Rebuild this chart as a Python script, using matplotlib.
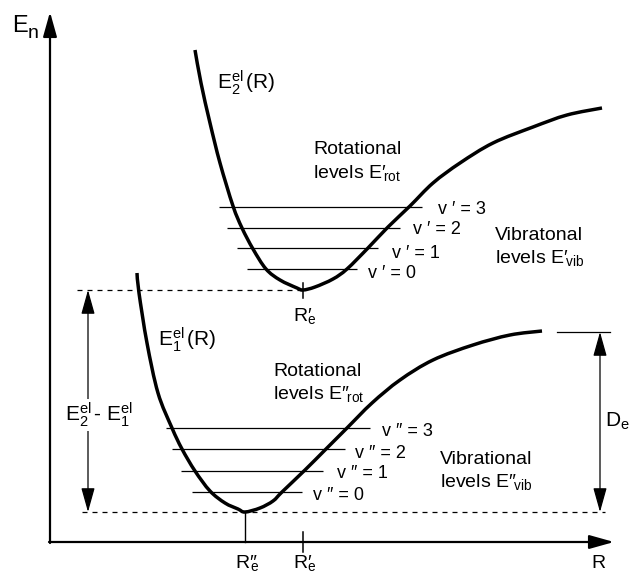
import numpy as np
import matplotlib.pyplot as plt
from matplotlib.path import Path
from matplotlib.patches import PathPatch

plt.rcParams['font.family'] = ['Liberation Sans', 'DejaVu Sans']
plt.rcParams['mathtext.fontset'] = 'custom'
plt.rcParams['mathtext.rm'] = 'Liberation Sans'
plt.rcParams['mathtext.it'] = 'Liberation Sans:italic'
plt.rcParams['mathtext.bf'] = 'Liberation Sans:bold'
plt.rcParams['mathtext.fallback'] = 'stixsans'

P1 = '\u2032'   # prime
P2 = '\u2033'   # double prime

# potential curves E(R)
upper_R = [145, 151, 160, 170, 183, 192, 203, 216, 230, 247, 253, 265, 283, 297,
           318, 338, 360, 383, 410, 443, 483, 517, 552]
upper_E = [492, 459, 419, 379, 336, 314, 293, 273, 262, 254, 252, 255, 263, 273,
           294, 315, 336, 359, 379, 399, 415, 427, 434]
lower_R = [87, 89, 97, 108, 122, 132, 145, 160, 175, 188, 195, 210, 223, 232,
           255, 276, 297, 322, 350, 383, 423, 460, 492]
lower_E = [269, 249, 199, 149, 114, 93, 71, 51, 39, 33, 30, 34, 41, 50,
           72, 93, 114, 139, 162, 182, 197, 207, 211]

# minima and dissociation limit
Re_upper, E_min_upper = 253, 252
Re_lower, E_min_lower = 195, 30
E_dissoc_lower = 210

# vibrational levels v = 0..3 with their extents
upper_levels = [273, 294, 314, 335]
upper_left = [197, 187, 177, 169]
upper_right = [307, 328, 350, 372]
lower_levels = [50, 71, 93, 114]
lower_left = [142, 131, 122, 116]
lower_right = [252, 273, 295, 320]

upper_level_labels = ['v ' + P1 + ' = %d' % v for v in range(4)]
lower_level_labels = ['v ' + P2 + ' = %d' % v for v in range(4)]
upper_label_R = [318, 342, 363, 388]
upper_label_E = [269, 289, 312, 333]
lower_label_R = [263, 287, 305, 332]
lower_label_E = [46, 68, 89, 110]


def smooth_path(xs, ys):
    # cubic Bezier segments through the points (Catmull-Rom tangents)
    pts = np.column_stack([xs, ys]).astype(float)
    verts = [pts[0]]
    codes = [Path.MOVETO]
    n = len(pts)
    for i in range(n - 1):
        p0 = pts[max(i - 1, 0)]
        p1 = pts[i]
        p2 = pts[i + 1]
        p3 = pts[min(i + 2, n - 1)]
        verts += [p1 + (p2 - p0) / 6, p2 - (p3 - p1) / 6, p2]
        codes += [Path.CURVE4] * 3
    return Path(verts, codes)


fig = plt.figure(figsize=(6.3, 5.79), dpi=100)
ax = fig.add_axes([0, 0, 1, 1])
ax.set_xlim(-50, 580)
ax.set_ylim(-37, 542)
ax.axis('off')

# coordinate axes with arrow heads
head = '-|>,head_length=1.0,head_width=0.28'
ax.annotate('', xy=(0, 530), xytext=(0, -1),
            arrowprops=dict(arrowstyle=head, lw=1.6, color='k', mutation_scale=15,
                            shrinkA=0, shrinkB=0))
ax.annotate('', xy=(564, 0), xytext=(-1, 0),
            arrowprops=dict(arrowstyle=head, lw=1.6, color='k', mutation_scale=15,
                            shrinkA=0, shrinkB=0))

# potential curves
for xs, ys in [(upper_R, upper_E), (lower_R, lower_E)]:
    ax.add_patch(PathPatch(smooth_path(xs, ys), fill=False, ec='k', lw=2.5,
                           capstyle='butt', joinstyle='round'))

# vibrational levels
ax.hlines(upper_levels, upper_left, upper_right, color='k', lw=0.9)
ax.hlines(lower_levels, lower_left, lower_right, color='k', lw=0.9)
for lab, r, e in zip(upper_level_labels, upper_label_R, upper_label_E):
    ax.text(r, e, lab, fontsize=13, ha='left', va='center')
for lab, r, e in zip(lower_level_labels, lower_label_R, lower_label_E):
    ax.text(r, e, lab, fontsize=13, ha='left', va='center')

# dashed reference lines at the two minima
ax.plot([27, Re_upper - 3], [E_min_upper, E_min_upper], color='k', lw=0.9, ls=(0, (4, 4)))
ax.plot([32, 555], [E_min_lower, E_min_lower], color='k', lw=0.9, ls=(0, (4, 4)))

# equilibrium distance markers
ax.plot([Re_upper, Re_upper], [E_min_upper - 8, E_min_upper + 7], color='k', lw=1.1)
ax.plot([Re_lower, Re_lower], [0, E_min_lower], color='k', lw=1.0)
ax.plot([Re_upper, Re_upper], [-10, 10], color='k', lw=1.1)

# double arrows: electronic gap and dissociation energy
dbl = '<|-|>,head_length=1.0,head_width=0.28'
ax.annotate('', xy=(38, E_min_upper), xytext=(38, E_min_lower),
            arrowprops=dict(arrowstyle=dbl, lw=0.9, color='k', mutation_scale=15,
                            shrinkA=0, shrinkB=0))
ax.annotate('', xy=(550, E_dissoc_lower), xytext=(550, E_min_lower),
            arrowprops=dict(arrowstyle=dbl, lw=0.9, color='k', mutation_scale=15,
                            shrinkA=0, shrinkB=0))
ax.plot([507, 560], [E_dissoc_lower, E_dissoc_lower], color='k', lw=0.9)

# labels
ax.text(-38, 516, 'E', fontsize=17, ha='left', va='center')
ax.text(-22, 509, 'n', fontsize=14, ha='left', va='center')
ax.text(548, -22, 'R', fontsize=14, ha='center', va='center')
ax.text(167, 459, r'$\mathrm{E}_2^{\mathrm{el}}\,(\mathrm{R})$', fontsize=15, ha='left', va='center')
ax.text(108, 202, r'$\mathrm{E}_1^{\mathrm{el}}\,(\mathrm{R})$', fontsize=15, ha='left', va='center')
ax.text(15, 127, r'$\mathrm{E}_2^{\mathrm{el}}\,$- $\mathrm{E}_1^{\mathrm{el}}$', fontsize=15,
        ha='left', va='center',
        bbox=dict(facecolor='white', edgecolor='none', pad=1))
ax.text(555, 121, r'$\mathrm{D}_\mathrm{e}$', fontsize=15, ha='left', va='center')

Re1_label = r'$\mathrm{R' + P1 + r'}_{\!\!\mathrm{e}}$'
Re2_label = r'$\mathrm{R' + P2 + r'}_{\!\!\!\mathrm{e}}$'
ax.text(Re_upper + 2, 226, Re1_label, fontsize=14, ha='center', va='center')
ax.text(Re_lower + 2, -21, Re2_label, fontsize=14, ha='center', va='center')
ax.text(Re_upper + 2, -21, Re1_label, fontsize=14, ha='center', va='center')

ax.text(263, 392, 'Rotational', fontsize=14, ha='left', va='center')
ax.text(263, 369, r'levels $\mathrm{E' + P1 + r'}_{\!\mathrm{rot}}$', fontsize=14, ha='left', va='center')
ax.text(445, 307, 'Vibratonal', fontsize=14, ha='left', va='center')
ax.text(445, 284, r'levels $\mathrm{E' + P1 + r'}_{\!\mathrm{vib}}$', fontsize=14, ha='left', va='center')
ax.text(223, 170, 'Rotational', fontsize=14, ha='left', va='center')
ax.text(223, 148, r'levels $\mathrm{E' + P2 + r'}_{\!\mathrm{rot}}$', fontsize=14, ha='left', va='center')
ax.text(390, 82, 'Vibrational', fontsize=14, ha='left', va='center')
ax.text(390, 60, r'levels $\mathrm{E' + P2 + r'}_{\!\mathrm{vib}}$', fontsize=14, ha='left', va='center')

fig.savefig('out.png', dpi=100, facecolor='white')
